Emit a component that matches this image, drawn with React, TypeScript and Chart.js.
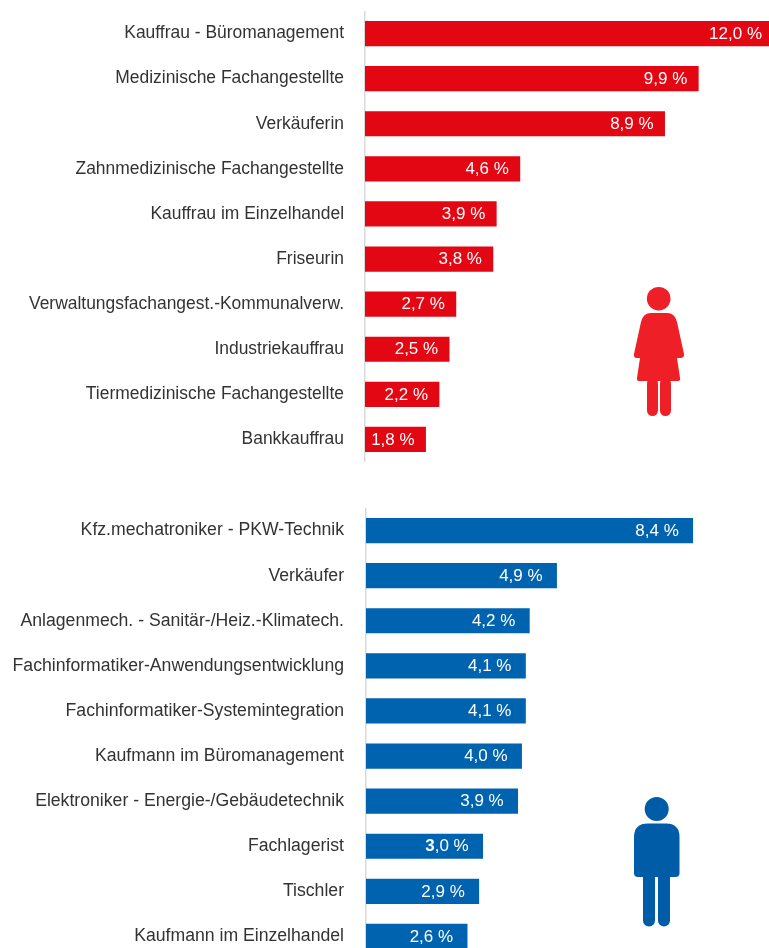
import React, { useEffect, useRef } from "react";
import { Chart, registerables } from "chart.js";

Chart.register(...registerables);

const femaleJobs = [
  "Kauffrau - Büromanagement",
  "Medizinische Fachangestellte",
  "Verkäuferin",
  "Zahnmedizinische Fachangestellte",
  "Kauffrau im Einzelhandel",
  "Friseurin",
  "Verwaltungsfachangest.-Kommunalverw.",
  "Industriekauffrau",
  "Tiermedizinische Fachangestellte",
  "Bankkauffrau",
];
const femaleValues = [12.0, 9.9, 8.9, 4.6, 3.9, 3.8, 2.7, 2.5, 2.2, 1.8];

const maleJobs = [
  "Kfz.mechatroniker - PKW-Technik",
  "Verkäufer",
  "Anlagenmech. - Sanitär-/Heiz.-Klimatech.",
  "Fachinformatiker-Anwendungsentwicklung",
  "Fachinformatiker-Systemintegration",
  "Kaufmann im Büromanagement",
  "Elektroniker - Energie-/Gebäudetechnik",
  "Fachlagerist",
  "Tischler",
  "Kaufmann im Einzelhandel",
];
const maleValues = [8.4, 4.9, 4.2, 4.1, 4.1, 4.0, 3.9, 3.0, 2.9, 2.6];
const maleBoldLeadIndex = 7;

const FONT = '"Liberation Sans", Arial, sans-serif';
const VALUE_SIZE = 17;

const valueLabels = {
  id: "valueLabels",
  afterDatasetsDraw(chart: any, _args: any, opts: any) {
    const ctx = chart.ctx;
    const meta = chart.getDatasetMeta(0);
    ctx.save();
    ctx.fillStyle = "#ffffff";
    ctx.textBaseline = "middle";
    ctx.textAlign = "left";
    meta.data.forEach((bar: any, i: number) => {
      const text = chart.data.datasets[0].data[i].toFixed(1).replace(".", ",") + " %";
      const right = bar.x >= chart.width - 1 ? chart.width - 7 : bar.x - opts.pad;
      const bold = i === opts.boldIndex;
      const lead = bold ? text.slice(0, 1) : "";
      const rest = bold ? text.slice(1) : text;
      ctx.font = `${VALUE_SIZE}px ${FONT}`;
      const restW = ctx.measureText(rest).width;
      ctx.font = `bold ${VALUE_SIZE}px ${FONT}`;
      const leadW = lead ? ctx.measureText(lead).width : 0;
      const x = right - restW - leadW;
      const y = bar.y + 0.5;
      if (lead) ctx.fillText(lead, x, y);
      ctx.font = `${VALUE_SIZE}px ${FONT}`;
      ctx.fillText(rest, x + leadW, y);
    });
    ctx.restore();
  },
};

function makeChart(
  canvas: HTMLCanvasElement,
  labels: string[],
  values: number[],
  color: string,
  axisWidth: number,
  max: number,
  pad: number,
  boldIndex: number,
  labelPad: number,
  labelSize: number
) {
  return new Chart(canvas, {
    type: "bar",
    plugins: [valueLabels],
    data: {
      labels,
      datasets: [{ data: values, backgroundColor: color, barThickness: 24.5, borderWidth: 0 }],
    },
    options: {
      indexAxis: "y",
      animation: false,
      responsive: false,
      events: [],
      layout: { padding: 0 },
      plugins: {
        legend: { display: false },
        title: { display: false },
        tooltip: { enabled: false },
        valueLabels: { pad, boldIndex },
      } as any,
      scales: {
        x: { display: false, min: 0, max },
        y: {
          afterFit(scale: any) {
            scale.width = axisWidth;
            scale.paddingTop = 0;
            scale.paddingBottom = 0;
          },
          grid: { display: true, drawOnChartArea: false, drawTicks: false },
          border: { display: true, color: "#d9d9d9", width: 1.5 },
          ticks: {
            autoSkip: false,
            padding: labelPad,
            color: "#333333",
            font: { family: FONT, size: labelSize },
          },
        },
      },
    },
  });
}

export default function App() {
  const topRef = useRef<HTMLCanvasElement>(null);
  const bottomRef = useRef<HTMLCanvasElement>(null);

  useEffect(() => {
    const a = makeChart(topRef.current!, femaleJobs, femaleValues, "#e30613", 365, 12, 11, -1, 21, 17.45);
    const b = makeChart(bottomRef.current!, maleJobs, maleValues, "#0063af", 366, 10.36, 14, maleBoldLeadIndex, 22, 17.65);
    return () => {
      a.destroy();
      b.destroy();
    };
  }, []);

  return (
    <div style={{ position: "fixed", left: 0, top: 0, width: 769, height: 948, overflow: "hidden", background: "#fff" }}>
      <canvas ref={topRef} width={769} height={451} style={{ position: "absolute", left: 0, top: 11 }} />
      <canvas ref={bottomRef} width={769} height={451} style={{ position: "absolute", left: 0, top: 508 }} />
      <svg width={769} height={948} style={{ position: "absolute", left: 0, top: 0, pointerEvents: "none" }}>
        <g fill="#ee1f26">
          <circle cx={658.7} cy={298.7} r={11.8} />
          <path d="M651 313 H667 Q675 313 677 322 L684 354 Q684.5 358 680 358 L677 358 L680 378 Q680.5 381 678 381 H639 Q636.5 381 637 378 L640 358 L637 358 Q633.5 358 634 354 L641 322 Q643 313 651 313 Z" />
          <rect x={647} y={378} width={11} height={38} rx={5.5} />
          <rect x={660} y={378} width={11} height={38} rx={5.5} />
        </g>
        <g fill="#005ca6">
          <circle cx={656.7} cy={809} r={12} />
          <path d="M648 823.5 H666 Q679.5 823.5 679.5 837 V873 Q679.5 877 675.5 877 H638 Q634 877 634 873 V837 Q634 823.5 648 823.5 Z" />
          <rect x={643} y={870} width={12} height={56.5} rx={6} />
          <rect x={658} y={870} width={12} height={56.5} rx={6} />
        </g>
      </svg>
    </div>
  );
}
